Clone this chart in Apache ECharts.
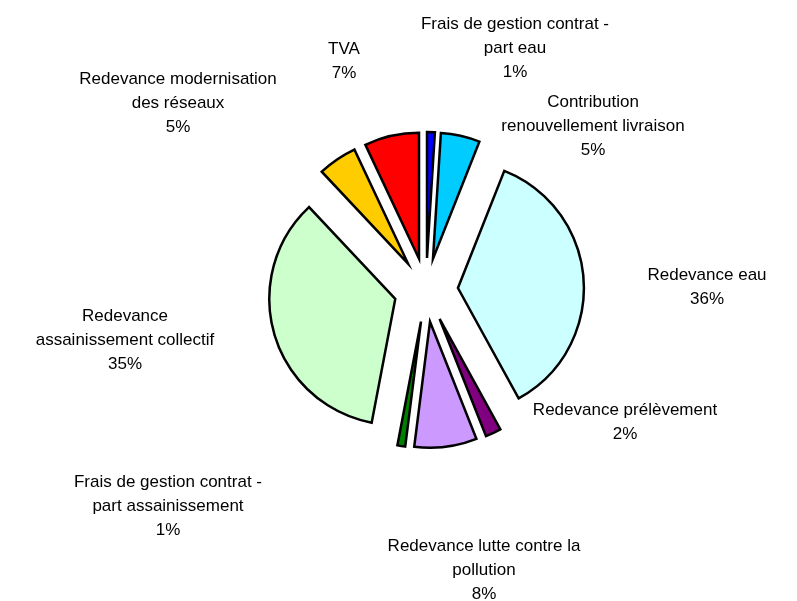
<!DOCTYPE html>
<html>
<head>
<meta charset="utf-8">
<script src="https://cdn.jsdelivr.net/npm/echarts@6/dist/echarts.min.js"></script>
<style>
  html, body { margin: 0; padding: 0; background: #fff; }
  #chart { width: 797px; height: 601px; }
</style>
</head>
<body>
<div id="chart"></div>
<script>
  // parts of the bill, clockwise from the top
  var categories = [
    'Frais de gestion contrat -\npart eau',
    'Contribution\nrenouvellement livraison',
    'Redevance eau',
    'Redevance prélèvement',
    'Redevance lutte contre la\npollution',
    'Frais de gestion contrat -\npart assainissement',
    'Redevance\nassainissement collectif',
    'Redevance modernisation\ndes réseaux',
    'TVA'
  ];
  var values = [1, 5, 36, 2, 8, 1, 35, 5, 7];

  var colorList = ['#0000FF', '#00CCFF', '#CCFFFF', '#800080', '#CC99FF', '#008000', '#CCFFCC', '#FFCC00', '#FF0000'];
  // label block centres (Excel-style placement)
  var labelPos = [[515, 48], [593, 126], [707, 287], [625, 422], [484, 570], [168, 506], [125, 340], [178, 103], [344, 61]];

  var chart = echarts.init(document.getElementById('chart'), null, { renderer: 'canvas' });

  var total = 0;
  values.forEach(function (v) { total += v; });

  var dataList = [];
  var labelList = [];
  for (var i = 0; i < values.length; i++) {
    dataList.push({
      name: categories[i],
      value: values[i],
      selected: true,
      itemStyle: { color: colorList[i] }
    });
    // pie labels get reset by the select state, so draw them as graphic text
    labelList.push({
      type: 'text',
      x: labelPos[i][0],
      y: labelPos[i][1],
      silent: true,
      style: {
        text: categories[i] + '\n' + Math.round(values[i] / total * 100) + '%',
        fill: '#000',
        fontFamily: 'Liberation Sans, Arial, sans-serif',
        fontSize: 17,
        lineHeight: 24,
        align: 'center',
        verticalAlign: 'middle'
      }
    });
  }

  chart.setOption({
    animation: false,
    graphic: labelList,
    series: [{
      type: 'pie',
      center: [426, 290],
      radius: 126,
      startAngle: 90,
      clockwise: true,
      selectedMode: 'multiple',
      selectedOffset: 32,
      emphasis: { disabled: true },
      itemStyle: {
        borderColor: '#000',
        borderWidth: 2.5,
        borderJoin: 'miter'
      },
      label: { show: false },
      labelLine: { show: false },
      data: dataList
    }]
  });
</script>
</body>
</html>
